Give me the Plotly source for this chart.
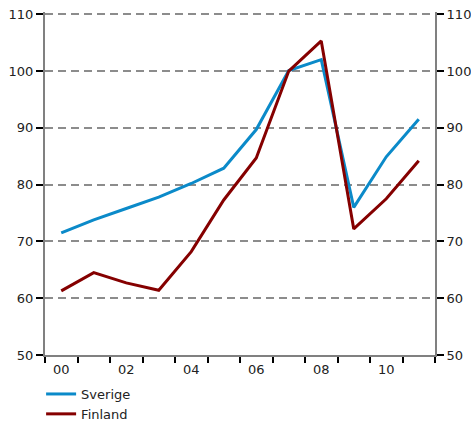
import plotly.graph_objects as go

years = [2000, 2001, 2002, 2003, 2004, 2005, 2006, 2007, 2008, 2009, 2010, 2011]
sverige = [71.5, 73.8, 75.8, 77.8, 80.2, 82.9, 89.7, 100.1, 102.0, 76.0, 84.9, 91.5]
finland = [61.3, 64.5, 62.7, 61.4, 68.2, 77.3, 84.7, 100.0, 105.3, 72.2, 77.5, 84.2]
year_labels = ["00", "02", "04", "06", "08", "10"]
y_ticks = [50, 60, 70, 80, 90, 100, 110]

BLUE = "#0b8ac9"
RED = "#850000"
FONT = "DejaVu Sans"

fig = go.Figure()
fig.add_trace(go.Scatter(x=years, y=sverige, name="Sverige", mode="lines",
                         line=dict(color=BLUE, width=3)))
fig.add_trace(go.Scatter(x=years, y=finland, name="Finland", mode="lines",
                         line=dict(color=RED, width=3)))
# invisible trace so the right-hand axis is drawn
fig.add_trace(go.Scatter(x=years, y=finland, yaxis="y2", mode="lines",
                         line=dict(width=0), showlegend=False, hoverinfo="skip",
                         opacity=0))

boundaries = [y - 0.5 for y in years] + [years[-1] + 0.5]
label_pos = years[::2]

yaxis_common = dict(
    range=[50, 110.4], tickvals=y_ticks, ticks="outside", ticklen=7,
    tickwidth=2, tickcolor="black", showline=True, linecolor="#808080",
    linewidth=2, zeroline=False,
    tickfont=dict(family=FONT, size=13, color="#222"),
)

fig.update_layout(
    width=471, height=423,
    margin=dict(l=45, r=36, t=12, b=68, autoexpand=False),
    paper_bgcolor="white", plot_bgcolor="white",
    font=dict(family=FONT, size=12, color="#222"),
    xaxis=dict(
        range=[1999.5, 2011.5], tickvals=label_pos, ticktext=year_labels,
        ticks="", ticklen=0, showgrid=False, zeroline=False,
        showline=True, linecolor="#808080", linewidth=2,
        ticklabelstandoff=1, tickfont=dict(family=FONT, size=13, color="#222"),
        minor=dict(tickvals=boundaries, ticks="outside", ticklen=6,
                   tickwidth=2, tickcolor="black", showgrid=False),
    ),
    yaxis=dict(**yaxis_common, showgrid=True, gridcolor="#8c8c8c",
               gridwidth=2, griddash="8px,5px"),
    yaxis2=dict(**yaxis_common, overlaying="y", side="right",
                showgrid=False, anchor="x"),
    showlegend=True,
    legend=dict(x=-0.01, xanchor="left", y=-0.07, yanchor="top",
                font=dict(family=FONT, size=13, color="#222"),
                tracegroupgap=0, itemwidth=30, bgcolor="rgba(0,0,0,0)"),
)

fig.write_html("out.html")
